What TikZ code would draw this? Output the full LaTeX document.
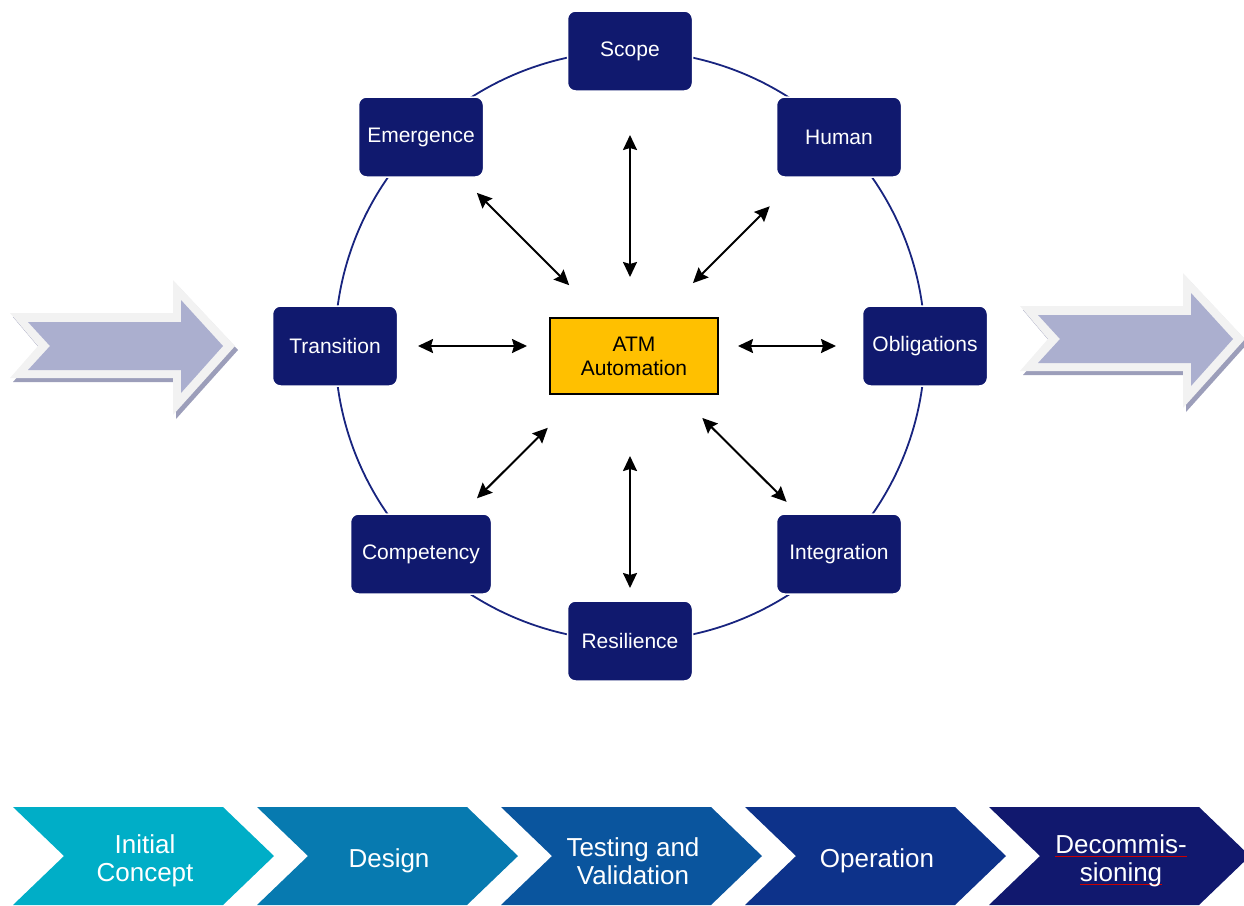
\documentclass[tikz,border=0pt]{standalone}
\usepackage{fontspec}
\setmainfont{Liberation Sans}
\usetikzlibrary{arrows.meta}

\definecolor{navy}{RGB}{16,25,110}
\definecolor{ringblue}{RGB}{24,36,127}
\definecolor{atmyellow}{RGB}{255,192,0}
\definecolor{lavender}{RGB}{171,175,207}
\definecolor{rim}{RGB}{242,242,242}
\definecolor{rimshade}{RGB}{156,158,186}
\definecolor{phaseA}{RGB}{0,174,199}
\definecolor{phaseB}{RGB}{7,122,176}
\definecolor{phaseC}{RGB}{10,85,158}
\definecolor{phaseD}{RGB}{13,50,138}
\definecolor{phaseE}{RGB}{17,24,110}

\tikzset{
  topic/.style={fill=navy, draw=white, line width=1.5pt, rounded corners=8pt,
    text=white, minimum width=125pt, minimum height=80pt,
    font=\fontsize{21}{25}\selectfont},
  hubbox/.style={fill=atmyellow, draw=black, line width=1.5pt,
    minimum width=168pt, minimum height=76pt, align=center,
    font=\fontsize{21}{25}\selectfont},
  ring/.style={ringblue, line width=1.8pt},
  dbl/.style={{Stealth[length=15pt,width=14pt,inset=2pt]}-{Stealth[length=15pt,width=14pt,inset=2pt]}, line width=2pt},
  phase/.style={text=white, align=center, font=\fontsize{26}{27.5}\selectfont},
}

% thin red spell mark under a word
\newcommand\spellmark[1]{\setbox0\hbox{#1}\rlap{\color{red!80!black}\rule[-3pt]{\wd0}{0.7pt}}\box0}

\begin{document}
\begin{tikzpicture}[x=1pt, y=-1pt]
	\useasboundingbox (0,0) rectangle (1244,905);

	% flow arrows, left and right
	\foreach \dx/\dy in {0/0, 1010/-7} {
		\begin{scope}[shift={(\dx,\dy)}]
		\fill[rimshade] (13,317) -- (176,317) -- (176,284) -- (238,350) -- (176,419) -- (176,382) -- (13,382) -- (41,350) -- cycle;
		\fill[rim] (10,313) -- (173,313) -- (173,280) -- (235,346) -- (173,415) -- (173,378) -- (10,378) -- (38,346) -- cycle;
		\fill[lavender] (28,322) -- (181,322) -- (181,300) -- (223,346) -- (181,393) -- (181,370) -- (28,370) -- (50,346) -- cycle;
		\end{scope}
	}

	% ring of topics
	\coordinate (hub) at (630,346);
	\draw[ring] (hub) circle (295);
	\node[topic] (scope) at (630,51) {Scope};
	\node[topic] (human) at (839,137) {Human};
	\node[topic] (obligations) at (925,346) {Obligations};
	\node[topic] (integration) at (839,554) {Integration};
	\node[topic] (resilience) at (630,641) {Resilience};
	\node[topic, minimum width=141pt] (competency) at (421,554) {Competency};
	\node[topic] (transition) at (335,346) {Transition};
	\node[topic] (emergence) at (421,137) {Emergence};

	\node[hubbox] (atm) at (634,356) {ATM\\[-1pt]Automation};

	% links from the hub out to every topic
	\foreach \n/\a/\b in {scope/69/84, human/89/98, obligations/108/89,
		integration/102/74, resilience/110/53, competency/116/79,
		transition/103/83, emergence/86/79}
		\draw[dbl, shorten <=\a pt, shorten >=\b pt] (hub) -- (\n.center);

	% life cycle chevrons
	\foreach \x/\c in {13/phaseA, 257/phaseB, 501/phaseC, 745/phaseD, 989/phaseE}
		\fill[\c] (\x,807) -- ++(210,0) -- ++(51,49) -- ++(-51,49) -- ++(-210,0) -- ++(51,-49) -- cycle;
	\node[phase] (concept) at (145,861) {Initial\\Concept};
	\node[phase] (design) at (389,861) {Design};
	\node[phase] (testing) at (633,861) {Testing and\\Validation};
	\node[phase] (operation) at (877,861) {Operation};
	\node[phase] (decom) at (1121,861) {\spellmark{Decommis-}\\\spellmark{sioning}};
\end{tikzpicture}
\end{document}
